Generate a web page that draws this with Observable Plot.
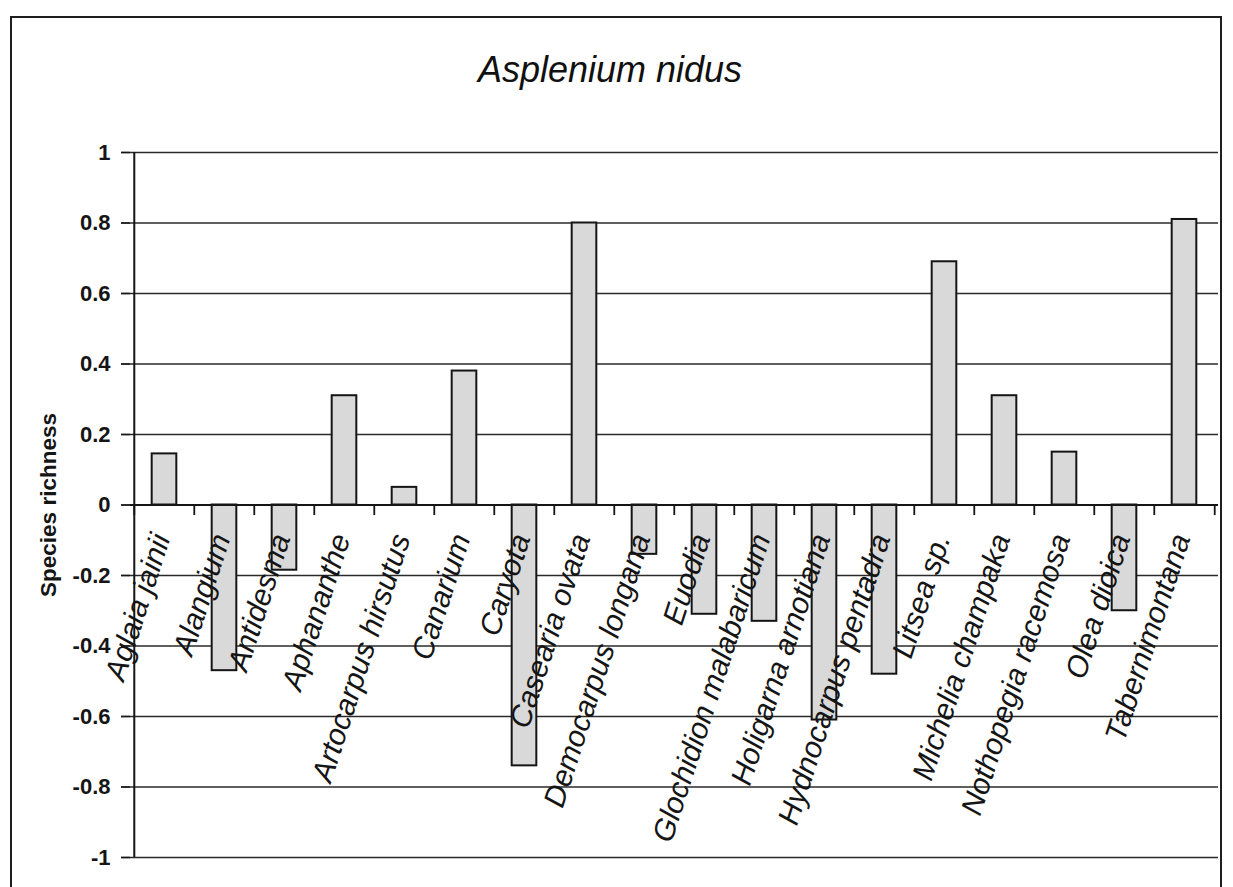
<!DOCTYPE html>
<html>
<head>
<meta charset="utf-8">
<script src="https://cdn.jsdelivr.net/npm/d3@7"></script>
<script src="https://cdn.jsdelivr.net/npm/@observablehq/plot@0.6"></script>
<style>
  html, body { margin: 0; padding: 0; background: #fff; width: 1233px; height: 887px; overflow: hidden;
    font-family: "Liberation Sans", Arial, sans-serif; }
  #frame { position: absolute; left: 10px; top: 16px; width: 1208px; height: 900px; border: 2px solid #1e1e1e; }
  #title { position: absolute; left: 0; top: 50px; width: 1220px; text-align: center; font-style: italic;
    font-size: 36px; line-height: 40px; color: #111; }
  #chart { position: absolute; left: 0; top: 110px; }
</style>
</head>
<body>
<div id="frame"></div>
<div id="title">Asplenium nidus</div>
<div id="chart"></div>
<script>
// Host tree species
const species = [
  "Aglaia jainii", "Alangium", "Antidesma", "Aphananthe", "Artocarpus hirsutus",
  "Canarium", "Caryota", "Casearia ovata", "Democarpus longana", "Euodia",
  "Glochidion malabaricum", "Holigarna arnotiana", "Hydnocarpus pentadra", "Litsea sp.",
  "Michelia champaka", "Nothopegia racemosa", "Olea dioica", "Tabernimontana"
];
// Species richness value for each host
const richness = [
  0.145, -0.47, -0.185, 0.31, 0.05,
  0.38, -0.74, 0.80, -0.14, -0.31,
  -0.33, -0.61, -0.48, 0.69,
  0.31, 0.15, -0.30, 0.81
];
// Value axis ticks
const yTicks = [-1, -0.8, -0.6, -0.4, -0.2, 0, 0.2, 0.4, 0.6, 0.8, 1];

const data = species.map((s, i) => ({species: s, value: richness[i]}));

const W = 1233, H = 777;
const mL = 130, mR = 15, mT = 42, mB = 30;
const step = (W - mL - mR) / species.length;
const ink = "#151515";

const chart = Plot.plot({
  width: W,
  height: H,
  marginLeft: mL,
  marginRight: mR,
  marginTop: mT,
  marginBottom: mB,
  style: {fontFamily: "'Liberation Sans', Arial, sans-serif", background: "transparent", color: ink},
  x: {domain: species, padding: 0, axis: null},
  y: {domain: [-1, 1], axis: null},
  marks: [
    Plot.gridY(yTicks, {stroke: "#2a2a2a", strokeOpacity: 1, strokeWidth: 1.5}),
    // value axis line along the left edge of the plot
    Plot.ruleX([species[0]], {x: d => d, y1: -1, y2: 1, dx: -step / 2, stroke: ink, strokeWidth: 2}),
    Plot.barY(data, {
      x: "species", y: "value",
      fill: "#d9d9d9", stroke: ink, strokeWidth: 2,
      insetLeft: step * 0.2925, insetRight: step * 0.2925
    }),
    Plot.ruleY([0], {stroke: ink, strokeWidth: 2}),
    // category separators hanging below the zero line
    Plot.ruleX(species, {x: d => d, y1: 0, y2: -0.03, dx: -step / 2, stroke: ink, strokeWidth: 1.8}),
    Plot.ruleX(species.slice(-1), {x: d => d, y1: 0, y2: -0.03, dx: step / 2, stroke: ink, strokeWidth: 1.8}),
    Plot.axisY(yTicks, {
      tickSize: 9, tickPadding: 11, tickFormat: d => String(d),
      fontSize: 22, fontWeight: "bold", stroke: ink, strokeWidth: 1.8, label: null
    }),
    Plot.text(species, {
      x: d => d, y: 0, text: d => d,
      rotate: -72, textAnchor: "end", dy: 30, dx: -3,
      fontSize: 30, fontStyle: "italic", fill: ink
    }),
    Plot.text(["Species richness"], {
      frameAnchor: "left", textAnchor: "middle", rotate: -90, dx: -82,
      fontSize: 22.5, fontWeight: "bold", fill: ink
    })
  ]
});

document.getElementById("chart").appendChild(chart);
</script>
</body>
</html>
